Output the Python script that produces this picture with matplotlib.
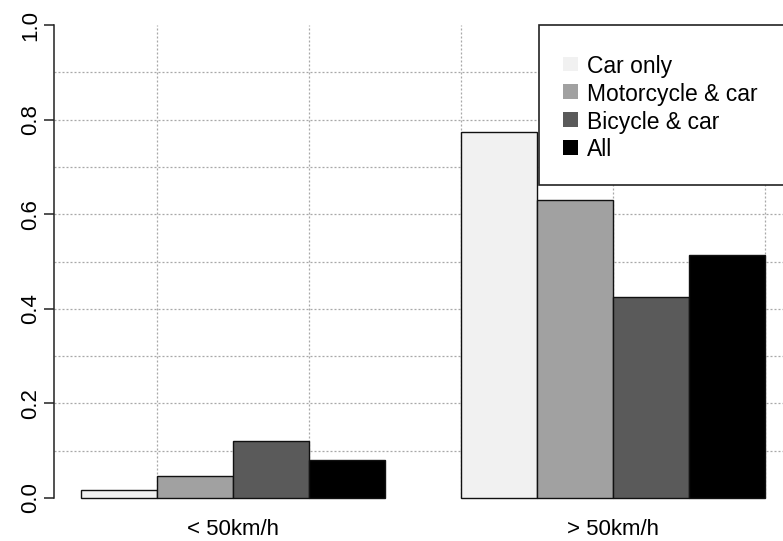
"""
Grouped bar chart: share of crashes by speed zone and vehicle combination.
Recreated in the look of an R barplot (beside=TRUE) with dotted grid.
"""

import numpy as np
import matplotlib
matplotlib.use("Agg")
import matplotlib.pyplot as plt
from matplotlib.patches import Rectangle

plt.rcParams["font.family"] = ["Liberation Sans", "DejaVu Sans"]

# ---- data ----
speed_groups = ["< 50km/h", "> 50km/h"]
series_names = ["Car only", "Motorcycle & car", "Bicycle & car", "All"]
car_only     = [0.016, 0.774]
moto_car     = [0.047, 0.630]
bike_car     = [0.120, 0.425]
all_vehicles = [0.081, 0.513]
bar_colors   = ["#f1f1f1", "#a1a1a1", "#5a5a5a", "#000000"]

series = [car_only, moto_car, bike_car, all_vehicles]

W, H, DPI = 783, 541, 100
FONT = 16

fig = plt.figure(figsize=(W / DPI, H / DPI), dpi=DPI)

# axes laid out in pixels, plot region runs past the right edge (cropped)
left_px, right_px = 54, 871.4
top_px, bottom_px = 6.1, 516.9
ax = fig.add_axes([left_px / W, 1 - bottom_px / H,
                   (right_px - left_px) / W, (bottom_px - top_px) / H])
ax.set_xlim(0.65, 11.4)
ax.set_ylim(-0.04, 1.04)

# R barplot positions: width 1, one bar gap between groups
n_series = len(series)
group_starts = [1 + g * (n_series + 1) for g in range(len(speed_groups))]

# dotted grid (behind bars)
grid_kw = dict(color="#a8a8a8", linewidth=0.9, linestyle=(0, (1.6, 1.6)), zorder=0)
for yv in np.arange(0.1, 0.95, 0.1):
    ax.axhline(yv, **grid_kw)
for xv in range(2, 11, 2):
    ax.plot([xv, xv], [0, 1], **grid_kw)

for i, (vals, col) in enumerate(zip(series, bar_colors)):
    xs = [gs + i for gs in group_starts]
    ax.bar(xs, vals, width=1.0, align="edge", color=col,
           edgecolor="#111111", linewidth=1.0, zorder=2)

# axes styling
for side in ["top", "right", "bottom"]:
    ax.spines[side].set_visible(False)
ax.spines["left"].set_bounds(0, 1)
ax.spines["left"].set_linewidth(1.1)
ax.spines["left"].set_color("#222222")

ax.set_yticks(np.arange(0, 1.01, 0.2))
ax.set_yticklabels([f"{v:.1f}" for v in np.arange(0, 1.01, 0.2)],
                   rotation=90, va="center", fontsize=FONT)
ax.tick_params(axis="y", length=7.2, width=1.1, pad=2, color="#222222")

ax.set_xticks([gs + n_series / 2 for gs in group_starts])
ax.set_xticklabels(speed_groups, fontsize=FONT)
ax.tick_params(axis="x", length=0, pad=1.2)

# legend box drawn in pixel coords (extends past right edge like the original)
def px(x, y):
    return (x / DPI, (H - y) / DPI)

box_l, box_t, box_b = 539.3, 25.3, 185.3
fig.patches.append(Rectangle(px(box_l, box_b), (900 - box_l) / DPI, (box_b - box_t) / DPI,
                             transform=fig.dpi_scale_trans, facecolor="white",
                             edgecolor="#222222", linewidth=1.2, zorder=5))
row0, row_step = 63.8, 27.9
for i, (name, col) in enumerate(zip(series_names, bar_colors)):
    yc = row0 + i * row_step
    fig.patches.append(Rectangle(px(562.7, yc + 7.3), 15.6 / DPI, 14.6 / DPI,
                                 transform=fig.dpi_scale_trans, facecolor=col,
                                 edgecolor="none", zorder=6))
    fig.text(587.3 / W, 1 - yc / H, name, fontsize=16.5, va="center_baseline",
             ha="left", zorder=7)

fig.savefig("out.png", dpi=DPI)
